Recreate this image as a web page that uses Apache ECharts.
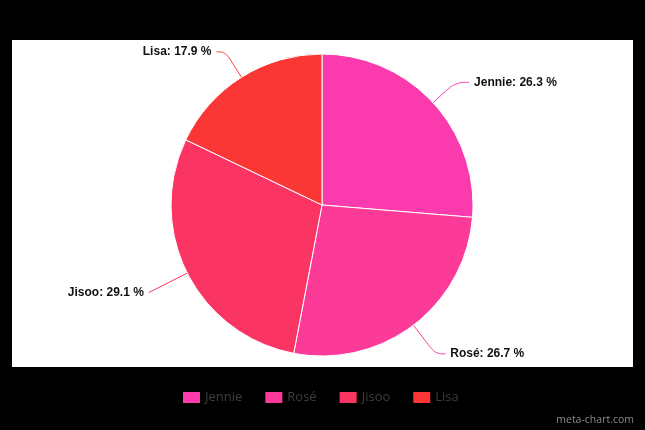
<!DOCTYPE html>
<html><head><meta charset="utf-8">
<script src="https://cdn.jsdelivr.net/npm/echarts@6/dist/echarts.min.js"></script>
<style>html,body{margin:0;padding:0;background:#000;}#c{width:645px;height:430px;}</style>
</head><body><div id="c"></div>
<script>
var categories = ['Jennie', 'Rosé', 'Jisoo', 'Lisa'];
var values = [26.3, 26.7, 29.1, 17.9];
var colors = ['#fb3aad', '#fc3a98', '#fa3564', '#fb3735'];
var lineLengths = [[30, 14], [36, 10], [43, 0], [30, 9]];

var chart = echarts.init(document.getElementById('c'));
chart.setOption({
  backgroundColor: '#000',
  animation: false,
  color: colors,
  graphic: [
    { type: 'rect', left: 12, top: 40, z: -10, shape: { width: 621, height: 327 }, style: { fill: '#fff' } },
    { type: 'text', right: 11, top: 415, style: { text: 'meta-chart.com', fill: '#8a8a8a', font: '10.5px "Open Sans", sans-serif' } }
  ],
  legend: {
    left: 178, top: 386,
    itemWidth: 17, itemHeight: 11, itemGap: 23,
    icon: 'rect',
    itemStyle: { borderWidth: 0 },
    textStyle: { color: '#3e3e3e', fontSize: 13, fontFamily: 'Open Sans' },
    data: categories
  },
  series: [{
    type: 'pie',
    center: [322, 205],
    radius: 151,
    startAngle: 90,
    clockwise: true,
    avoidLabelOverlap: false,
    itemStyle: { borderColor: '#fff', borderWidth: 1 },
    label: {
      show: true,
      formatter: function (p) { return p.name + ': ' + p.value.toFixed(1) + ' %'; },
      color: '#111', fontWeight: 'bold', fontSize: 12, fontFamily: 'Liberation Sans, Arial, sans-serif'
    },
    labelLine: { show: true, smooth: 0.4, lineStyle: { width: 1 } },
    emphasis: { disabled: true },
    data: categories.map(function (c, i) {
      return { name: c, value: values[i], labelLine: { length: lineLengths[i][0], length2: lineLengths[i][1] } };
    })
  }]
});
</script></body></html>
